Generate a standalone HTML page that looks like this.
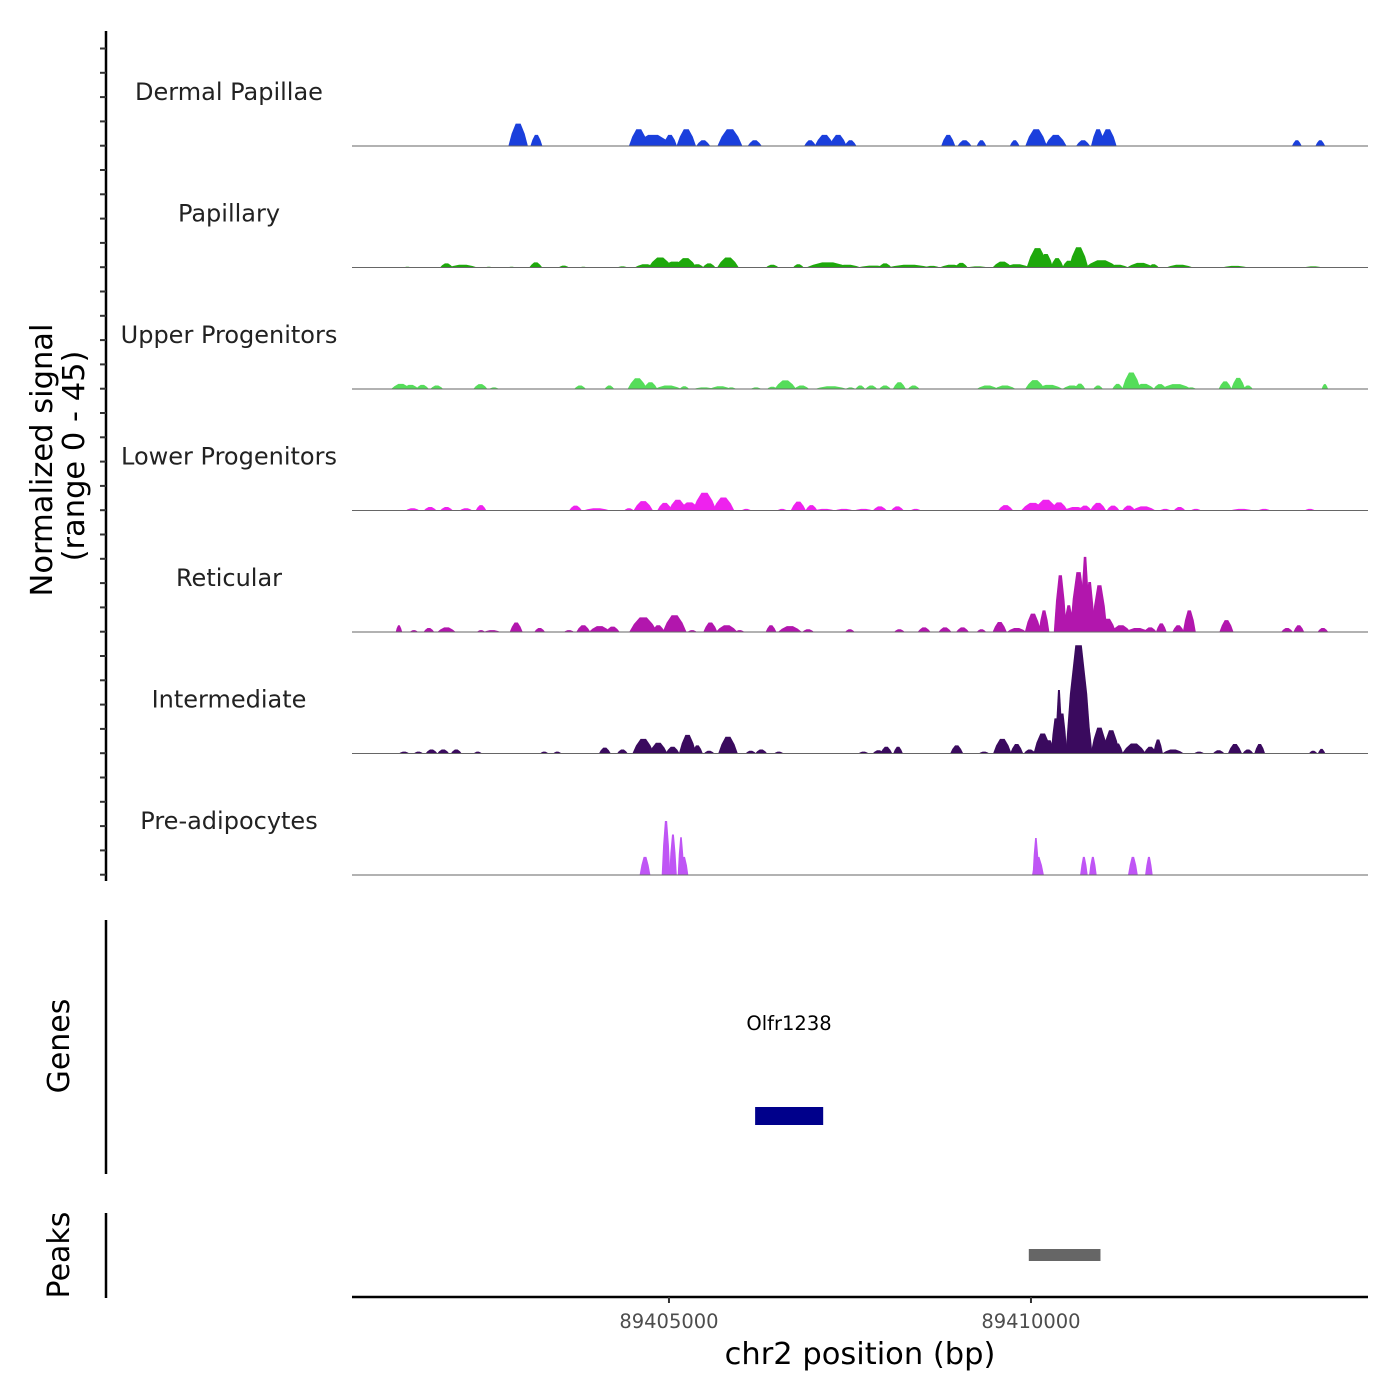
<!DOCTYPE html>
<html><head><meta charset="utf-8"><style>
html,body{margin:0;padding:0;background:#fff;}
svg{display:block;font-family:"DejaVu Sans","Liberation Sans",sans-serif;}
</style></head><body>
<svg id="chart" width="1400" height="1400" viewBox="0 0 1400 1400" xmlns="http://www.w3.org/2000/svg">
<g id="yaxis"></g>
<text transform="translate(52,460) rotate(-90)" text-anchor="middle" font-size="30.5" fill="#000">Normalized signal</text>
<text transform="translate(84,456) rotate(-90)" text-anchor="middle" font-size="30.5" fill="#000">(range 0 - 45)</text>
<g id="tracks"></g>
<line x1="106" y1="920" x2="106" y2="1174" stroke="#000" stroke-width="2.5"/>
<text transform="translate(69,1046) rotate(-90)" text-anchor="middle" font-size="30">Genes</text>
<text x="789" y="1030" text-anchor="middle" font-size="19.5">Olfr1238</text>
<rect id="gene" x="755" y="1107" width="68" height="18" fill="#00008b"/>
<line x1="106" y1="1213" x2="106" y2="1298" stroke="#000" stroke-width="2.5"/>
<text transform="translate(69,1255) rotate(-90)" text-anchor="middle" font-size="30">Peaks</text>
<rect id="peak" x="1029" y="1249" width="72" height="12" fill="#666"/>
<line x1="352" y1="1297" x2="1368" y2="1297" stroke="#000" stroke-width="2.5"/>
<g id="xaxis"></g>
<text x="860" y="1364" text-anchor="middle" font-size="30.5">chr2 position (bp)</text>
</svg>
<script>
const xDomain = [89400622, 89414655];
const xTicks = [89405000, 89410000];
const yMax = 45;
const trackNames = ["Dermal Papillae","Papillary","Upper Progenitors","Lower Progenitors","Reticular","Intermediate","Pre-adipocytes"];
const trackColors = ["#1a3fdc","#1ea80c","#55dd5a","#ee22ee","#b216ad","#3a0a5e","#bf55f5"];
const geneStart = 89406190, geneEnd = 89407130;
const peakStart = 89409970, peakEnd = 89410960;

const dpPos=[2917,3169,4582,4780,5014,5239,5473,5842,6184,6949,7147,7336,7507,8857,9082,9316,9775,10072,10342,10720,10927,11062,13672,13996];
const dpVal=[8.3,4.1,6.2,4.1,4.1,6.2,2.1,6.2,2.1,2.1,4.1,4.1,2.1,4.1,2.1,2.1,2.1,6.2,4.1,2.1,6.2,6.2,2.1,2.1];
const dpWid=[180,110,180,360,130,180,130,230,130,110,180,160,110,130,130,90,90,200,200,130,130,160,90,90];

const paPos=[1387,1927,2152,2512,2827,3160,3547,3817,4357,4672,4879,5077,5230,5392,5554,5815,6427,6787,7192,7462,7822,7984,8317,8632,8902,9037,9262,9604,9802,10090,10207,10360,10522,10657,10972,11197,11512,11692,12052,12817,13897];
const paVal=[0.3,1.5,1.0,0.3,0.3,1.9,0.7,0.3,0.4,1.2,3.7,2.2,3.5,1.2,1.5,3.7,1.0,1.2,1.9,1.0,0.7,1.5,1.0,0.6,1.0,1.7,0.4,2.2,1.2,7.2,5.0,3.5,2.5,7.5,2.7,1.0,1.7,1.2,1.0,0.6,0.4];
const paWid=[80,120,270,80,80,120,100,80,100,200,220,250,200,120,120,200,120,100,400,250,300,120,400,150,220,120,200,180,250,200,130,120,120,180,300,200,250,100,250,250,180];

const upPos=[1297,1432,1594,1792,2395,2584,3772,4177,4564,4744,4987,5212,5482,5707,5860,6202,6427,6607,6832,7237,7507,7642,7795,7984,8182,8380,9397,9640,10054,10252,10567,10675,10927,11197,11386,11557,11782,12007,12214,12682,12862,12997,14059];
const upVal=[1.9,1.5,1.5,1.3,1.8,0.6,1.3,1.3,4.0,2.5,1.3,1.0,0.6,1.0,0.6,0.6,0.8,3.2,1.3,1.0,0.6,1.3,1.3,1.3,2.5,1.3,1.3,1.3,3.3,1.5,1.3,2.0,1.3,1.9,6.1,1.9,1.8,1.8,0.6,2.8,4.1,1.3,1.8];
const upWid=[180,150,120,120,130,90,110,90,180,130,250,90,200,200,90,100,100,200,140,300,90,90,110,110,120,110,200,200,180,250,180,100,90,100,170,200,120,280,90,120,130,90,60];

const lpPos=[1459,1702,1927,2197,2404,3709,4000,4447,4645,4942,5122,5284,5491,5752,6067,6562,6787,6967,7147,7417,7687,7912,8155,8407,9649,10027,10207,10387,10612,10747,10927,11134,11350,11557,11854,12052,12277,12907,13222,13852];
const lpVal=[0.8,1.3,1.3,0.8,2.0,1.8,0.8,0.8,3.5,2.8,4.0,3.0,6.6,4.8,0.6,0.6,3.3,2.0,0.6,0.6,0.6,1.5,1.5,0.6,2.0,2.8,4.0,3.0,1.3,1.8,2.8,1.8,1.8,1.5,0.6,1.3,0.6,0.6,0.6,0.6];
const lpWid=[130,120,120,120,100,120,250,90,180,140,170,200,220,200,90,90,140,110,200,180,180,130,120,100,140,220,220,160,220,120,150,120,120,220,100,110,100,220,120,100];

const rePos=[1270,1477,1684,1927,2404,2557,2890,3214,3619,3817,4042,4222,4645,4852,5077,5320,5572,5797,5977,6409,6670,6922,7498,8182,8524,8812,9055,9316,9568,9802,10027,10180,10405,10522,10657,10747,10810,10945,11062,11242,11467,11647,11800,12034,12187,12700,13537,13699,14032];
const reVal=[2.5,0.7,1.5,1.7,0.7,0.7,3.5,1.5,0.7,2.5,2.2,2.0,5.4,2.5,6.2,0.7,3.5,2.5,0.7,2.5,2.2,1.0,1.0,1.0,1.7,1.7,1.7,1.0,3.7,1.5,6.8,8.0,21.0,9.9,22.2,27.8,18.5,17.3,4.9,2.5,1.5,1.7,3.2,2.5,8.0,4.4,1.5,2.5,1.5];
const reWid=[60,80,100,170,80,160,120,100,100,130,200,130,260,120,220,90,130,200,90,100,220,110,90,100,120,120,120,90,130,180,150,100,120,100,160,90,100,150,150,180,220,120,100,110,120,130,110,100,100];

const inPos=[1342,1540,1720,1882,2062,2359,3277,3457,4114,4357,4645,4852,5050,5257,5392,5554,5815,6130,6274,6517,7687,7894,8002,8164,8974,9352,9604,9802,9982,10162,10252,10342,10387,10432,10657,10774,10945,11107,11197,11422,11647,11755,11962,12322,12592,12817,12997,13159,13897,14014];
const inVal=[0.7,0.7,1.5,1.5,1.5,0.7,0.7,0.7,2.2,1.5,5.4,4.0,2.5,6.9,3.0,1.0,6.2,1.0,1.5,0.7,0.7,1.2,2.5,2.5,3.0,0.7,5.4,3.5,1.5,7.4,4.9,13.0,23.5,14.8,40.1,12.3,9.6,8.6,3.7,3.7,2.5,5.2,1.5,0.7,1.2,3.5,1.5,3.5,1.0,1.7];
const inWid=[100,90,110,110,100,80,80,80,110,100,200,170,130,160,100,100,180,100,110,90,100,110,110,90,120,100,170,120,110,170,100,90,70,90,240,100,160,160,100,220,120,90,200,100,110,130,100,100,80,70];

const adPos=[4669,4959,5055,5166,5207,10068,10096,10731,10855,11408,11629];
const adVal=[6.7,20,15,14,6.7,13.7,6.7,6.7,6.7,6.7,6.7];
const adWid=[100,80,70,60,80,60,110,70,70,90,70];

const trackPos=[dpPos,paPos,upPos,lpPos,rePos,inPos,adPos];
const trackVal=[dpVal,paVal,upVal,lpVal,reVal,inVal,adVal];
const trackWid=[dpWid,paWid,upWid,lpWid,reWid,inWid,adWid];

const NS="http://www.w3.org/2000/svg";
const X0=352, X1=1368, TOP=24.5, TH=121.5, WSCALE=1.5;
const base=89400000;
function xs(bp){return X0+(bp-xDomain[0])/(xDomain[1]-xDomain[0])*(X1-X0);}
function ys(v,t){const b=TOP+TH*(t+1);return b-v/yMax*TH;}
function mk(tag,attrs,parent){const e=document.createElementNS(NS,tag);for(const k in attrs)e.setAttribute(k,attrs[k]);parent.appendChild(e);return e;}

const tracks=document.getElementById('tracks');
trackNames.forEach((name,t)=>{
  const g=mk('g',{},tracks);
  
  
  const lbl=mk('text',{x:229,y:TOP+TH*(t+1)-46,'text-anchor':'middle','font-size':24,fill:'#222'},g);
  lbl.textContent=name;
  
  
  const by=ys(0,t);
  const P=trackPos[t],V=trackVal[t],W=trackWid[t];
  for(let i=0;i<P.length;i++){
    const p=base+P[i],w=W[i]*WSCALE,v=V[i];
    const pts=[[xs(p-w/2),by],[xs(p-w/3),ys(v*0.55,t)],[xs(p-w/8),ys(v,t)],[xs(p+w/8),ys(v,t)],[xs(p+w/3),ys(v*0.55,t)],[xs(p+w/2),by]];
    const poly=mk('polygon',{points:pts.map(q=>q[0].toFixed(1)+','+q[1].toFixed(1)).join(' '),fill:trackColors[t]},g);
    
    
  }
  const ln=mk('line',{x1:X0,x2:X1,y1:by,y2:by,stroke:'#666','stroke-width':1},g);
  
  
});

const ya=document.getElementById('yaxis');
const yl=mk('line',{x1:106,x2:106,y1:31,y2:881,stroke:'#000','stroke-width':2.5},ya);


for(let y=48.5;y<880;y+=24.3){
  const tk=mk('line',{x1:100,x2:106,y1:y,y2:y,stroke:'#333','stroke-width':2},ya);
  
  
}

const xa=document.getElementById('xaxis');
xTicks.forEach(v=>{
  const x=xs(v);
  const tk=mk('line',{x1:x,x2:x,y1:1297,y2:1303,stroke:'#333','stroke-width':2},xa);
  
  
  const tl=mk('text',{x:x,y:1328,'text-anchor':'middle','font-size':19.5,fill:'#4d4d4d'},xa);
  tl.textContent=String(v);
  
  
});
const gene=document.getElementById('gene');
gene.setAttribute('x',xs(geneStart));gene.setAttribute('width',xs(geneEnd)-xs(geneStart));
const pk=document.getElementById('peak');
pk.setAttribute('x',xs(peakStart));pk.setAttribute('width',xs(peakEnd)-xs(peakStart));
</script>
</body></html>
